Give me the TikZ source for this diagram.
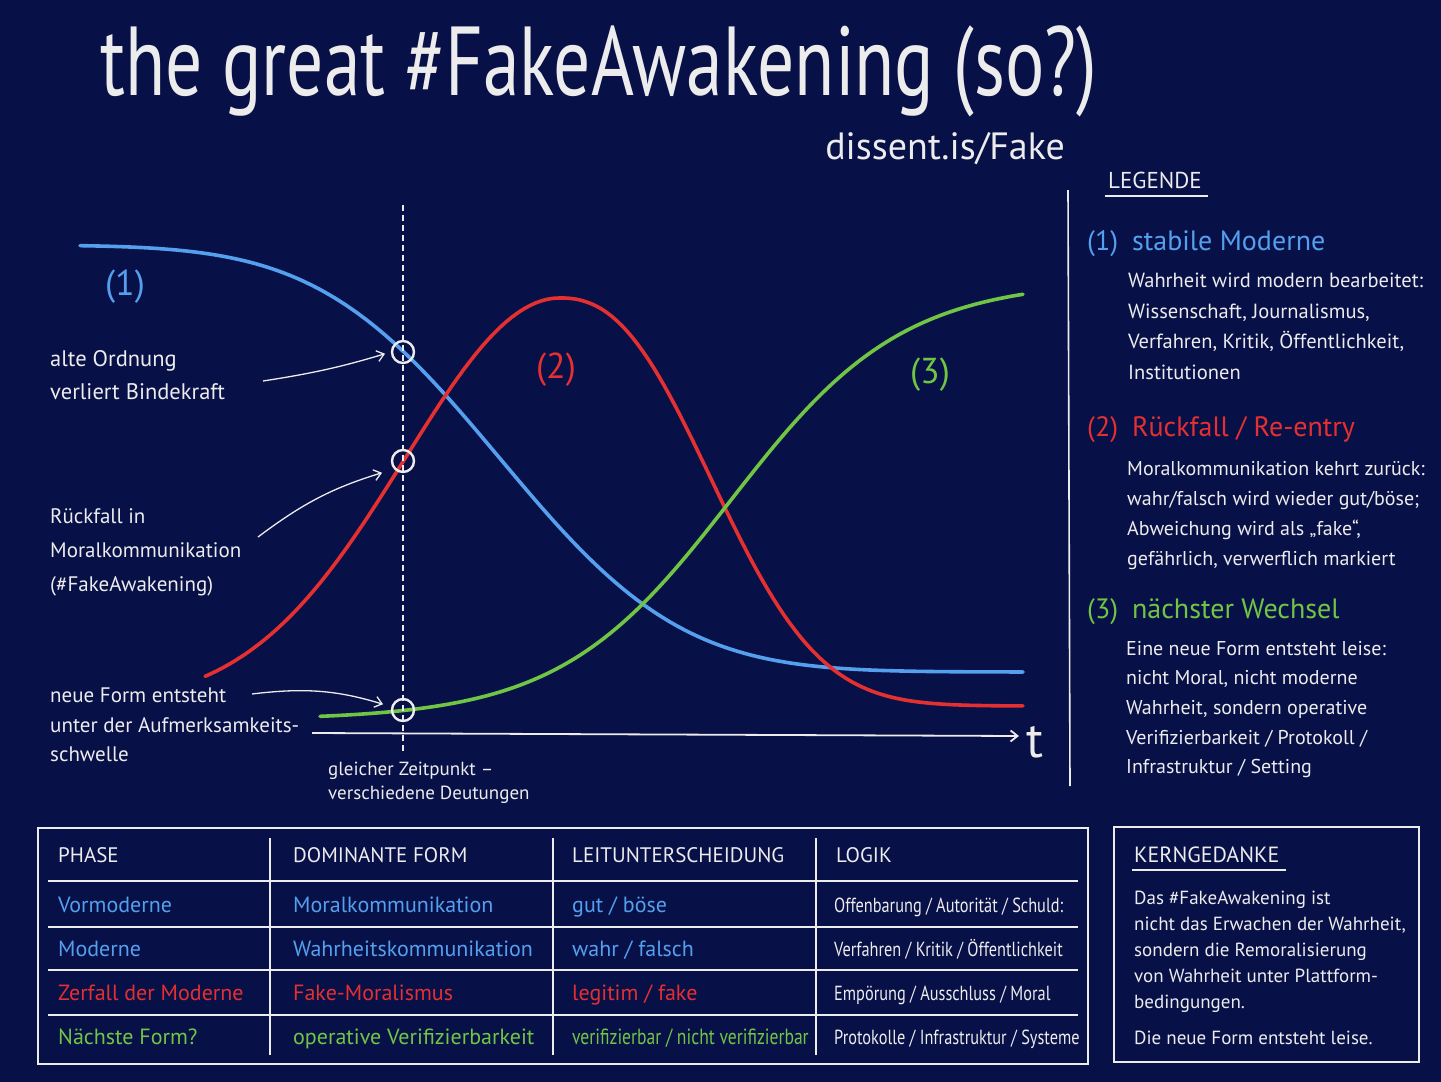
\documentclass[tikz,border=0pt]{standalone}
\usepackage{fontspec}
\setmainfont{PT Sans}
\newfontfamily\titlefont[FakeStretch = 0.75]{PT Sans}
\newfontfamily\narrowfont[FakeStretch = 0.8]{PT Sans}
\usetikzlibrary{arrows.meta}

\definecolor{board}{RGB}{8, 16, 72}
\definecolor{chalk}{RGB}{236, 236, 236}
\definecolor{modblue}{RGB}{85, 160, 238}
\definecolor{fakered}{RGB}{228, 48, 48}
\definecolor{newgreen}{RGB}{112, 198, 68}

\newcommand{\fsz}[2]{\fontsize{#1}{#2}\selectfont}

\tikzset{
	curve/.style = {line width = 3.6pt, line cap = round},
	ringmark/.style = {circle, draw = chalk, line width = 2.4pt, minimum size = 22pt, inner sep = 0pt},
	note/.style = {anchor = north west, align = left, text = chalk},
	cell/.style = {anchor = mid west},
	rule/.style = {chalk, line width = 1.6pt},
	pointer/.style = {->, chalk, line width = 1.3pt, shorten > = 6pt}
}

\begin{document}
\begin{tikzpicture}[x = 1pt, y = -1pt, > = {Straight Barb[length = 7pt, width = 11pt]}, font = \fsz{21}{33}, text = chalk, inner sep = 0pt]

	% Definitions
	
	\def\tx{403}		% common time marker
	\def\tb{1023}		% right end of curves
	
	% Board
	
	\fill [board] (0, 0) rectangle (1441, 1082);
	\useasboundingbox (0, 0) rectangle (1441, 1082);
	
	% Title
	
	\node [anchor = base west, font = \titlefont\fsz{98}{100}] (title) at (100, 95) {the great \#FakeAwakening (so?)};
	\node [anchor = base east, font = \fsz{38}{40}] (url) at (1065, 159) {dissent.is/Fake};
	
	% Curves
	
	\draw [modblue, curve] plot [domain = 80:\tb, samples = 140] (\x, {245 + 427 / (1 + exp(-1.5976 * (\x - 500) / 143 - 0.070566 * ((\x - 500) / 143) * ((\x - 500) / 143) * ((\x - 500) / 143)))});
	\draw [fakered, curve] plot [domain = 205:560, samples = 60] (\x, {706 - 408 * exp(-0.5 * ((\x - 560) / 155) * ((\x - 560) / 155))})
		-- plot [domain = 560:\tb, samples = 90] (\x, {706 - 408 * exp(-((\x - 559) / 190)^2.4)});
	\draw [newgreen, curve] plot [domain = 320:\tb, samples = 120] (\x, {720 - 440 / (1 + exp(-(\x - 731) / 86))});
	
	\node [modblue, font = \fsz{36}{40}] (n1) at (125, 287) {(1)};
	\node [fakered, font = \fsz{36}{40}] (n2) at (556, 370) {(2)};
	\node [newgreen, font = \fsz{36}{40}] (n3) at (930, 375) {(3)};
	
	% Axis and time marker
	
	\coordinate (axstart) at (312, 733);
	\coordinate (axend) at (1019, 736);
	\draw [->, chalk, line width = 1.8pt] (axstart) -- (axend);
	\node [anchor = west, font = \fsz{50}{50}] (tlab) at (1026, 742) {t};
	
	\draw [chalk, line width = 1.2pt, dash pattern = on 6pt off 4pt] (\tx, 205) -- (\tx, 753);
	
	\node [ringmark] (c1) at (\tx, 352) {};
	\node [ringmark] (c2) at (\tx, 461) {};
	\node [ringmark] (c3) at (\tx, 710) {};
	
	% Annotations
	
	\node [note, font = \fsz{22.5}{33}] (alt) at (50, 350) {alte Ordnung\\verliert Bindekraft};
	\node [note, font = \fsz{21}{34}] (rueck) at (50, 508) {Rückfall in\\Moralkommunikation\\(\#FakeAwakening)};
	\node [note, font = \fsz{21}{29.5}] (neu) at (50, 688) {neue Form entsteht\\unter der Aufmerksamkeits-\\schwelle};
	\node [note, font = \fsz{19}{24}] (same) at (328, 762) {gleicher Zeitpunkt –\\verschiedene Deutungen};
	
	\draw [pointer] ([xshift = 213pt, yshift = -31pt] alt.north west) to [bend right = 4] (c1.west);
	\draw [pointer] ([xshift = 208pt, yshift = -29pt] rueck.north west) to [bend left = 10] ([xshift = -3pt, yshift = -10pt] c2.west);
	\draw [pointer] ([xshift = 202pt, yshift = -6pt] neu.north west) to [bend left = 12] ([xshift = -2pt, yshift = 4pt] c3.west);
	
	% Legend
	
	\node [anchor = mid west, font = \fsz{23}{26}] (leg) at (1108, 186) {LEGENDE};
	\draw [rule] ([xshift = -3pt, yshift = -7pt] leg.south west) -- ([xshift = 6pt, yshift = -7pt] leg.south east);
	\draw [rule] (1068, 190) -- (1070, 786);
	
	\node [anchor = mid west, modblue, font = \fsz{28}{30}] (h1) at (1087, 248) {(1)\hspace{14pt}stabile Moderne};
	\node [note, font = \fsz{20.5}{30.5}] (b1) at (1128, 273) {Wahrheit wird modern bearbeitet:\\Wissenschaft, Journalismus,\\Verfahren, Kritik, Öffentlichkeit,\\Institutionen};
	
	\node [anchor = mid west, fakered, font = \fsz{28}{30}] (h2) at (1087, 434) {(2)\hspace{14pt}Rückfall / Re-entry};
	\node [note, font = \fsz{20}{30}] (b2) at (1127, 461) {Moralkommunikation kehrt zurück:\\wahr/falsch wird wieder gut/böse;\\Abweichung wird als „fake“,\\gefährlich, verwerflich markiert};
	
	\node [anchor = mid west, newgreen, font = \fsz{28}{30}] (h3) at (1087, 616) {(3)\hspace{14pt}nächster Wechsel};
	\node [note, font = \fsz{20}{29.6}] (b3) at (1126, 641) {Eine neue Form entsteht leise:\\nicht Moral, nicht moderne\\Wahrheit, sondern operative\\Verifizierbarkeit / Protokoll /\\Infrastruktur / Setting};
	
	% Table
	
	\draw [rule] (38, 828) rectangle (1088, 1064);
	\draw [rule, line width = 2pt] (48, 881) -- (1078, 881);
	\foreach \y in {927, 970, 1015}
		\draw [rule, line width = 1.2pt] (48, \y) -- (1078, \y);
	\foreach \x in {270, 553, 816}
		\draw [rule] (\x, 838) -- (\x, 1055);
	
	\node [cell] (hd1) at (58, 860) {PHASE};
	\node [cell] (hd2) at (293, 860) {DOMINANTE FORM};
	\node [cell] (hd3) at (572, 860) {LEITUNTERSCHEIDUNG};
	\node [cell] (hd4) at (836, 860) {LOGIK};
	
	\foreach \y/\c/\p/\f/\d/\l in {
		910/modblue/Vormoderne/Moralkommunikation/{gut / böse}/{Offenbarung / Autorität / Schuld:},
		954/modblue/Moderne/Wahrheitskommunikation/{wahr / falsch}/{Verfahren / Kritik / Öffentlichkeit},
		998/fakered/Zerfall der Moderne/Fake-Moralismus/{legitim / fake}/{Empörung / Ausschluss / Moral},
		1042/newgreen/Nächste Form?/operative Verifizierbarkeit/{\narrowfont verifizierbar / nicht verifizierbar}/{Protokolle / Infrastruktur / Systeme}}
	{
		\node [cell, text = \c, font = \fsz{22}{24}] at (58, \y) {\p};
		\node [cell, text = \c, font = \fsz{22}{24}] at (293, \y) {\f};
		\node [cell, text = \c, font = \fsz{22}{24}] at (572, \y) {\d};
		\node [cell, font = \narrowfont\fsz{20.4}{24}] at (834, \y) {\l};
	}
	
	% Core idea
	
	\draw [rule] (1114, 827) rectangle (1419, 1062);
	\node [anchor = mid west, font = \fsz{22}{24}] (kern) at (1134, 860) {KERNGEDANKE};
	\draw [rule] ([xshift = -2pt, yshift = -7pt] kern.south west) -- ([xshift = 6pt, yshift = -7pt] kern.south east);
	\node [note, font = \fsz{19}{26}] (kb) at (1134, 891) {Das \#FakeAwakening ist\\nicht das Erwachen der Wahrheit,\\sondern die Remoralisierung\\von Wahrheit unter Plattform-\\bedingungen.};
	\node [note, font = \fsz{19}{26}] (kl) at (1134, 1031) {Die neue Form entsteht leise.};
	
\end{tikzpicture}
\end{document}
